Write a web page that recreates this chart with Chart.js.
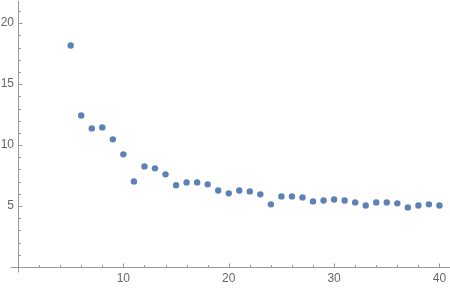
<!DOCTYPE html>
<html>
<head>
<meta charset="utf-8">
<script src="https://cdn.jsdelivr.net/npm/chart.js@4/dist/chart.umd.min.js"></script>
<style>
  html, body { margin: 0; padding: 0; background: #fff; }
  #wrap { width: 450px; height: 288px; }
</style>
</head>
<body>
<div id="wrap"><canvas id="c"></canvas></div>
<script>
const xValues = [5, 6, 7, 8, 9, 10, 11, 12, 13, 14, 15, 16, 17, 18, 19, 20, 21, 22,
  23, 24, 25, 26, 27, 28, 29, 30, 31, 32, 33, 34, 35, 36, 37, 38, 39, 40];
const yValues = [18.17, 12.43, 11.37, 11.45, 10.47, 9.24, 7.02, 8.25, 8.09, 7.6, 6.7, 6.94,
  6.94, 6.78, 6.28, 6.04, 6.28, 6.2, 5.96, 5.14, 5.79, 5.79, 5.71, 5.38, 5.46, 5.54,
  5.46, 5.3, 5.05, 5.3, 5.3, 5.22, 4.89, 5.05, 5.14, 5.05];
const xTickLabels = [10, 20, 30, 40];
const yTickLabels = [5, 10, 15, 20];

const axisColor = '#999999';
const labelColor = '#666666';

// axis lines and inward tick marks, Mathematica style
const axesPlugin = {
  id: 'axes',
  afterDraw(chart) {
    const { ctx, scales: { x, y } } = chart;
    const x0 = Math.round(x.getPixelForValue(0)) + 0.5;
    const y0 = Math.round(y.getPixelForValue(0)) + 0.5;
    ctx.save();
    ctx.strokeStyle = axisColor;
    ctx.lineWidth = 1;
    ctx.beginPath();
    ctx.moveTo(x.getPixelForValue(-0.7), y0);
    ctx.lineTo(x.right, y0);
    ctx.moveTo(x0, y.getPixelForValue(-0.45));
    ctx.lineTo(x0, Math.max(y.top, 1));
    for (let v = 2; v <= 40; v += 2) {
      const px = Math.round(x.getPixelForValue(v)) + 0.5;
      const len = v % 10 === 0 ? 4 : 2.5;
      ctx.moveTo(px, y0);
      ctx.lineTo(px, y0 - len);
    }
    for (let v = 1; v <= 21; v += 1) {
      const py = Math.round(y.getPixelForValue(v)) + 0.5;
      const len = v % 5 === 0 ? 4 : 2.5;
      ctx.moveTo(x0, py);
      ctx.lineTo(x0 + len, py);
    }
    ctx.stroke();
    ctx.restore();
  }
};

new Chart(document.getElementById('c'), {
  type: 'scatter',
  data: {
    datasets: [{
      data: xValues.map((v, i) => ({ x: v, y: yValues[i] })),
      backgroundColor: 'rgb(94, 129, 181)',
      borderWidth: 0,
      pointRadius: 3.2,
      clip: false,
    }],
  },
  plugins: [axesPlugin],
  options: {
    responsive: true,
    maintainAspectRatio: false,
    animation: false,
    layout: { padding: 0, autoPadding: false },
    plugins: { legend: { display: false }, tooltip: { enabled: false } },
    scales: {
      x: {
        type: 'linear',
        min: 0,
        max: 41,
        afterFit(scale) {
          scale.height = 21;
          scale.paddingLeft = 0;
          scale.paddingRight = 0;
        },
        afterBuildTicks(scale) {
          scale.ticks = xTickLabels.map((v) => ({ value: v }));
        },
        grid: { display: false, drawTicks: false },
        border: { display: false },
        ticks: {
          color: labelColor,
          padding: 4,
          maxRotation: 0,
          font: { family: 'Liberation Sans', size: 12 },
        },
      },
      y: {
        type: 'linear',
        min: 0,
        max: 21.9,
        afterFit(scale) {
          scale.width = 18;
          scale.paddingTop = 0;
          scale.paddingBottom = 0;
        },
        afterBuildTicks(scale) {
          scale.ticks = yTickLabels.map((v) => ({ value: v }));
        },
        grid: { display: false, drawTicks: false },
        border: { display: false },
        ticks: {
          color: labelColor,
          padding: 4,
          font: { family: 'Liberation Sans', size: 12 },
        },
      },
    },
  },
});
</script>
</body>
</html>
